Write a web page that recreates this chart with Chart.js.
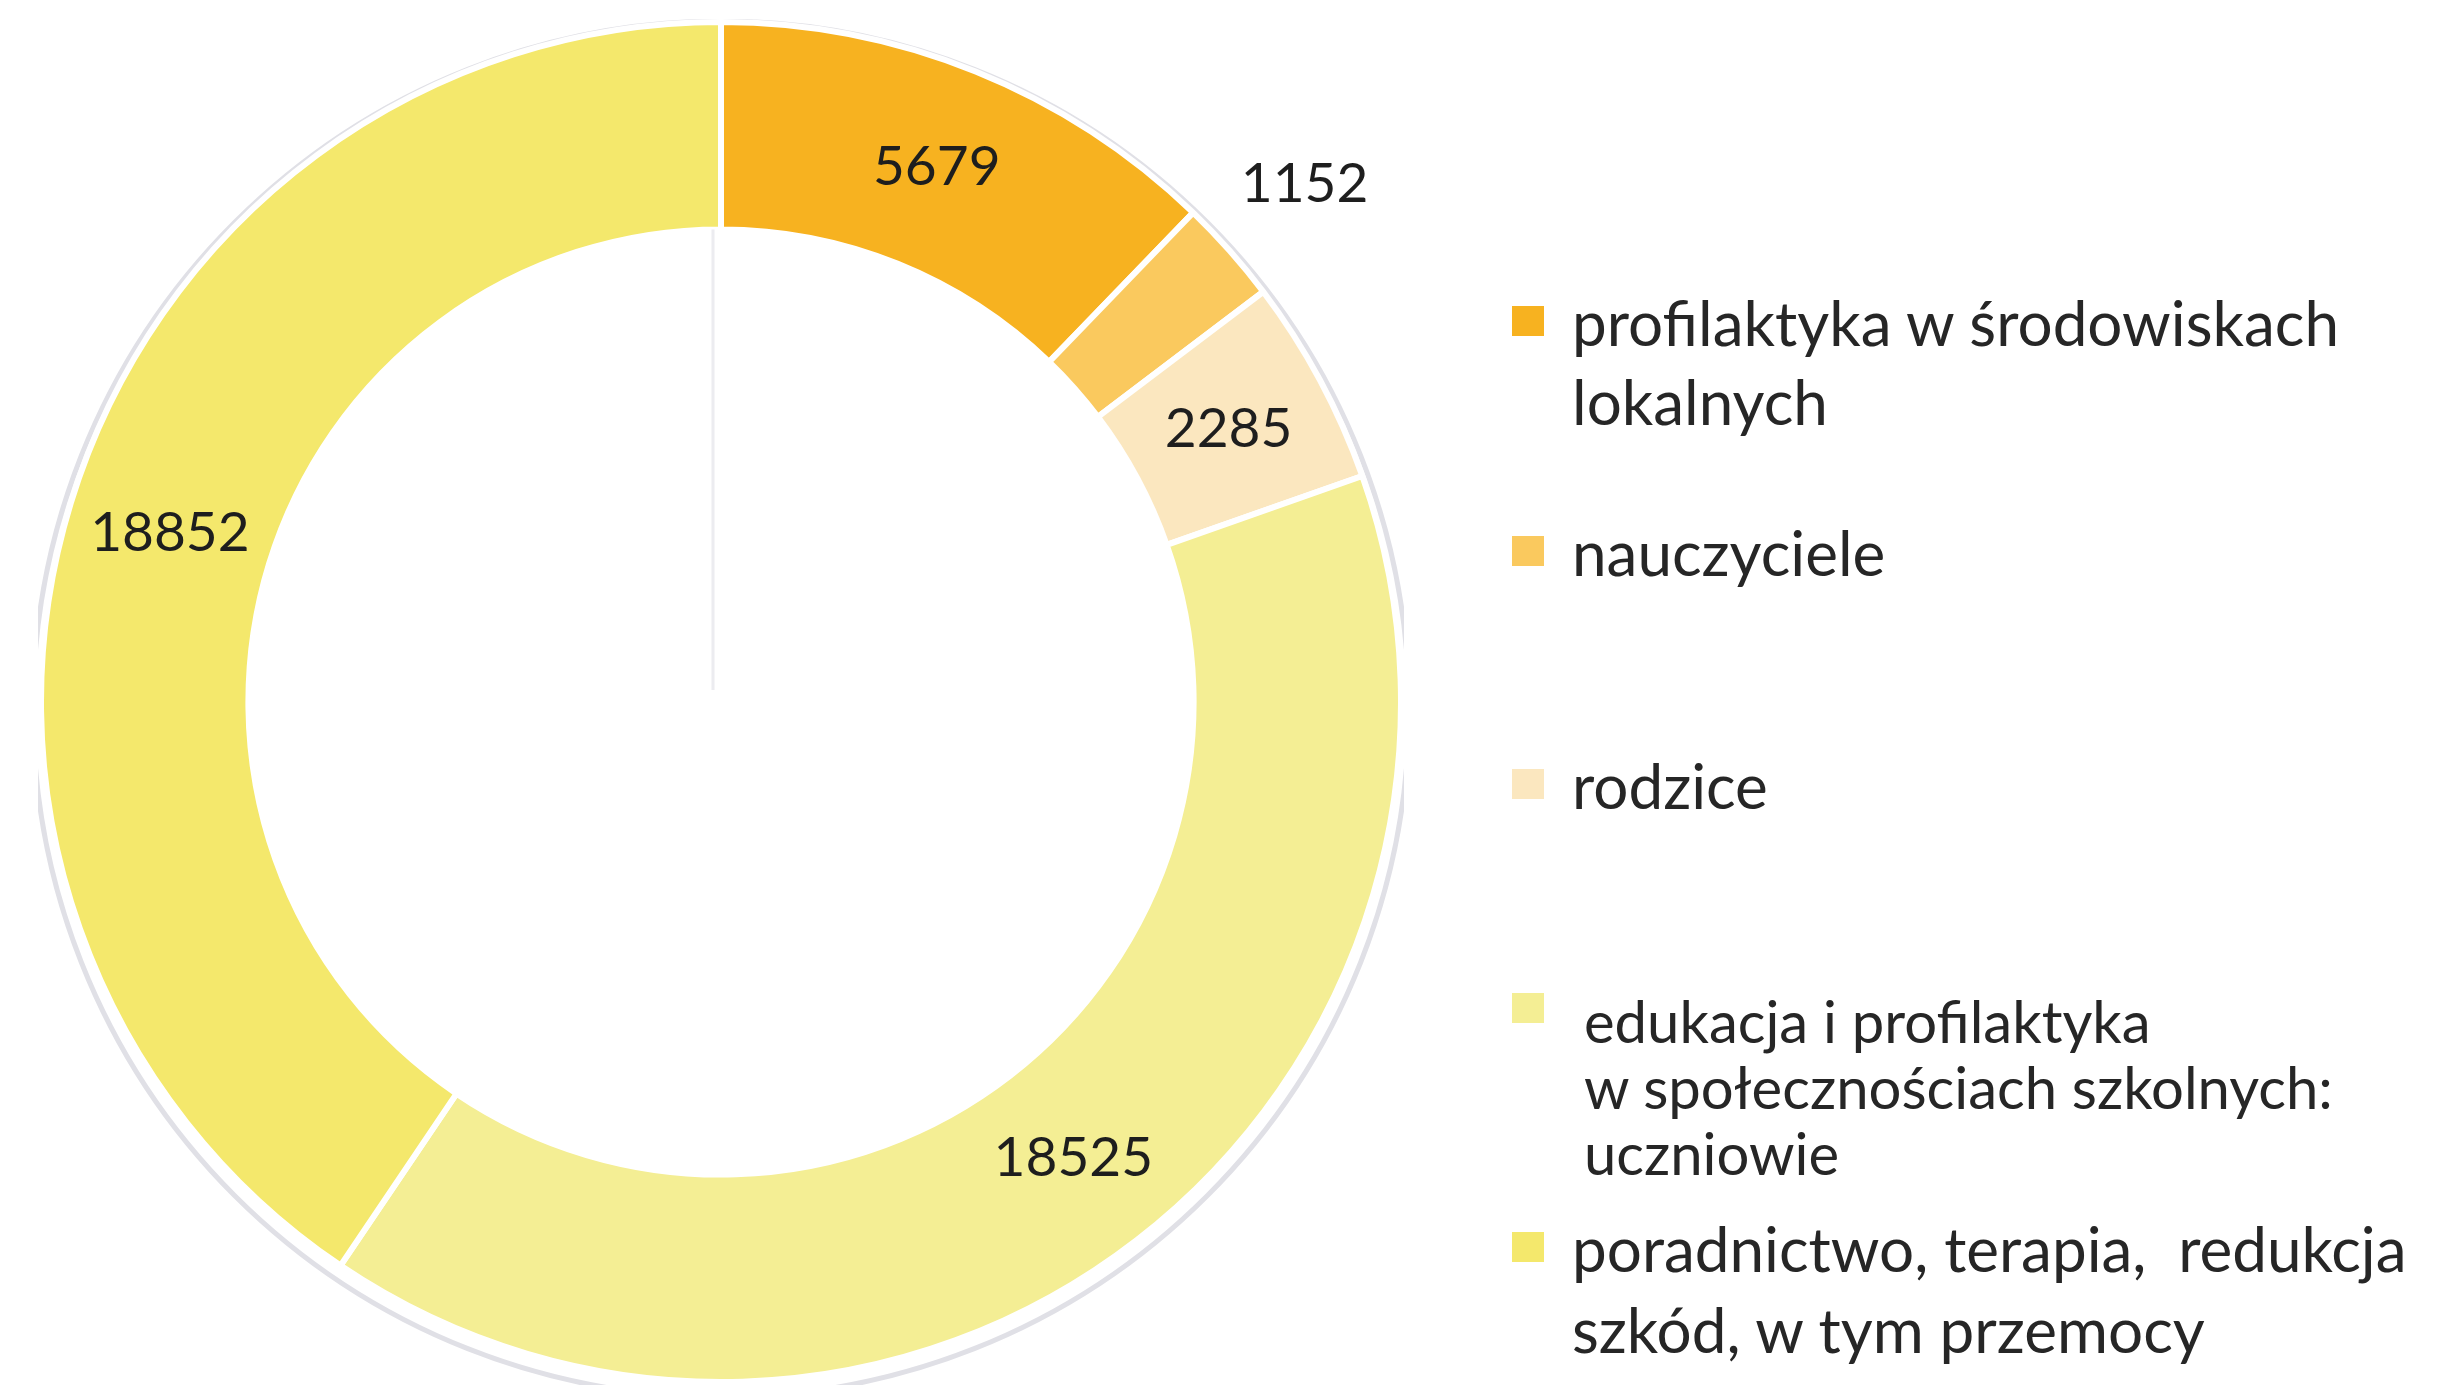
<!DOCTYPE html>
<html lang="pl">
<head>
<meta charset="utf-8">
<title>Odbiorcy działań</title>
<script src="https://cdn.jsdelivr.net/npm/chart.js@4.4.1/dist/chart.umd.min.js"></script>
<style>
  html, body { margin: 0; padding: 0; background: #ffffff; }
  body { width: 2437px; height: 1396px; position: relative; overflow: hidden; font-family: Lato, "Open Sans", sans-serif; }
  #chartBox { position: absolute; left: 38px; top: 19px; width: 1366px; height: 1366px; }
  .legend-item { position: absolute; left: 1512px; }
  .legend-item .swatch { position: absolute; left: 0; width: 32px; height: 30px; }
  .legend-item .text { position: absolute; white-space: pre; color: #262626; }
</style>
</head>
<body>
<div id="chartBox"><canvas id="donut"></canvas></div>
<div id="legend"></div>
<script>
// Categories (legend order) and their counts
const categories = [
  ['profilaktyka w środowiskach', 'lokalnych'],
  ['nauczyciele'],
  ['rodzice'],
  ['edukacja i profilaktyka', 'w społecznościach szkolnych:', 'uczniowie'],
  ['poradnictwo, terapia,  redukcja', 'szkód, w tym przemocy']
];
const values = [5679, 1152, 2285, 18525, 18852];
const colors = ['#F7B220', '#FAC95E', '#FBE7BF', '#F4EE94', '#F4E86C'];

// Legend rows: vertical position of the first text line, line spacing, text indent, font size
const legendRows = [
  { top: 322, lineGap: 79, indent: 0, size: 62 },
  { top: 552, lineGap: 79, indent: 0, size: 62 },
  { top: 785, lineGap: 79, indent: 0, size: 62 },
  { top: 1021, lineGap: 66, indent: 12, size: 58 },
  { top: 1248, lineGap: 81, indent: 0, size: 62 }
];

// Build the HTML legend
const legendEl = document.getElementById('legend');
categories.forEach((lines, i) => {
  const row = legendRows[i];
  const item = document.createElement('div');
  item.className = 'legend-item';
  item.style.top = (row.top - 16) + 'px';
  const sw = document.createElement('div');
  sw.className = 'swatch';
  sw.style.background = colors[i];
  sw.style.top = (i === 3 ? -12 : 0) + 'px';
  item.appendChild(sw);
  lines.forEach((ln, j) => {
    const t = document.createElement('div');
    t.className = 'text';
    t.textContent = ln;
    t.style.left = (60 + row.indent) + 'px';
    t.style.top = (j * row.lineGap - 40 + 16) + 'px';
    t.style.lineHeight = '80px';
    t.style.fontSize = row.size + 'px';
    item.appendChild(t);
  });
  legendEl.appendChild(item);
});

// Faint ring behind the doughnut and the thin guide from the top to the centre
const ringDecor = {
  id: 'ringDecor',
  beforeDatasetsDraw(chart) {
    const arc = chart.getDatasetMeta(0).data[0];
    if (!arc) return;
    const { x, y, outerRadius } = arc.getProps(['x', 'y', 'outerRadius'], true);
    const ctx = chart.ctx;
    ctx.save();
    ctx.beginPath();
    ctx.arc(x, y + 7, outerRadius + 8, 0, Math.PI * 2);
    ctx.lineWidth = 5;
    ctx.strokeStyle = '#e0e0e6';
    ctx.stroke();
    ctx.restore();
  },
  afterDatasetsDraw(chart) {
    const arc = chart.getDatasetMeta(0).data[0];
    if (!arc) return;
    const { x, y, innerRadius } = arc.getProps(['x', 'y', 'innerRadius'], true);
    const ctx = chart.ctx;
    ctx.save();
    ctx.beginPath();
    ctx.moveTo(x - 8, y - innerRadius);
    ctx.lineTo(x - 8, y - 12);
    ctx.lineWidth = 3;
    ctx.strokeStyle = '#ececf0';
    ctx.stroke();
    ctx.restore();
  }
};

// Value labels: inside the ring, or just outside for very thin slices
const valueLabels = {
  id: 'valueLabels',
  afterDatasetsDraw(chart) {
    const meta = chart.getDatasetMeta(0);
    const data = chart.data.datasets[0].data;
    const total = data.reduce((a, b) => a + b, 0);
    const ctx = chart.ctx;
    ctx.save();
    ctx.font = '400 55px Lato, "Open Sans", sans-serif';
    ctx.fillStyle = '#1e1e1e';
    ctx.textAlign = 'center';
    ctx.textBaseline = 'middle';
    meta.data.forEach((arc, i) => {
      const p = arc.getProps(['x', 'y', 'startAngle', 'endAngle', 'innerRadius', 'outerRadius'], true);
      const mid = (p.startAngle + p.endAngle) / 2;
      const share = data[i] / total;
      const r = share < 0.04 ? p.outerRadius + 100 : (p.innerRadius + p.outerRadius) / 2;
      ctx.fillText(String(data[i]), p.x + Math.cos(mid) * r, p.y + Math.sin(mid) * r);
    });
    ctx.restore();
  }
};

new Chart(document.getElementById('donut'), {
  type: 'doughnut',
  data: {
    labels: categories.map(c => c.join(' ')),
    datasets: [{
      data: values,
      backgroundColor: colors,
      borderColor: '#ffffff',
      borderWidth: 6,
      hoverOffset: 0
    }]
  },
  options: {
    responsive: true,
    maintainAspectRatio: false,
    animation: false,
    cutout: '69.5%',
    layout: { padding: 0 },
    plugins: {
      legend: { display: false },
      tooltip: { enabled: false }
    }
  },
  plugins: [ringDecor, valueLabels]
});
</script>
</body>
</html>
